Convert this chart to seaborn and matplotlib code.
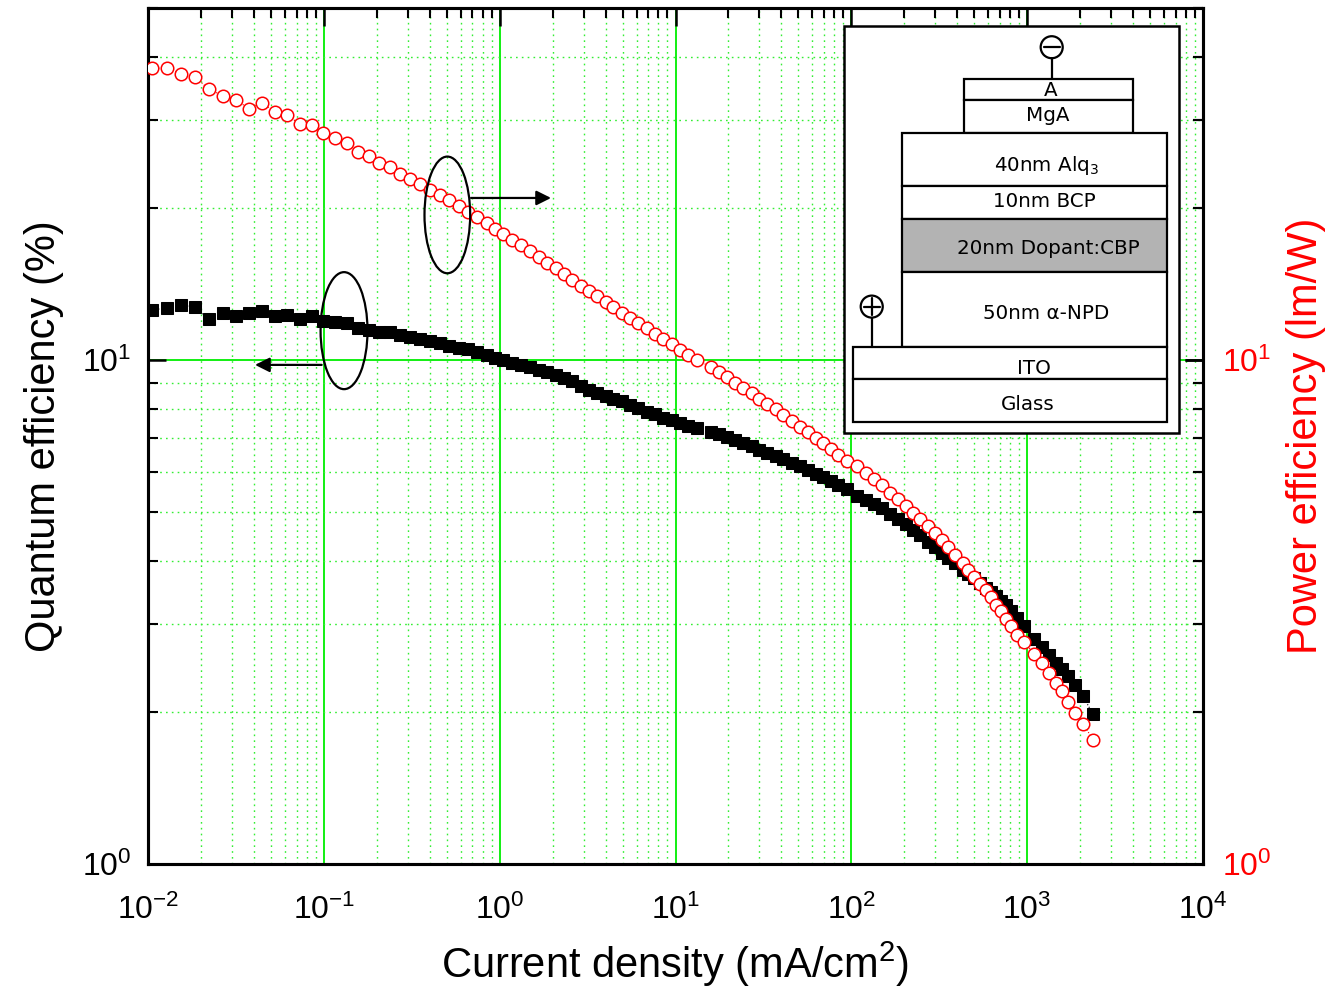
import matplotlib
matplotlib.use("Agg")
import matplotlib.pyplot as plt
import pandas as pd
import seaborn as sns
from matplotlib.patches import Rectangle, Ellipse
from matplotlib.ticker import LogLocator, NullFormatter

# Current density sweep (mA/cm^2)
current_density = [
    0.01058, 0.01278, 0.01547, 0.01858, 0.02223, 0.02671, 0.03155, 0.03754, 0.04452, 0.05278,
    0.06175, 0.07293, 0.08537, 0.0989, 0.1158, 0.1350, 0.1555, 0.1796, 0.2061, 0.2364,
    0.2702, 0.3093, 0.3526, 0.4018, 0.4581, 0.5174, 0.5875, 0.6584, 0.7466, 0.8444, 0.9415,
    1.050, 1.181, 1.324, 1.489, 1.675, 1.868, 2.085, 2.324, 2.591, 2.893, 3.225, 3.595,
    4.013, 4.434, 4.949, 5.517, 6.152, 6.866, 7.656, 8.537, 9.528, 10.62, 11.84, 13.22,
    15.88, 17.70, 19.58, 21.83, 24.33, 27.16, 30.01, 33.33, 37.21, 41.11, 45.86, 51.15,
    57.02, 63.07, 69.39, 76.42, 84.45, 94.28,
    107.9, 121.4, 134.8, 149.7, 166.2, 184.6, 205.0, 224.6, 246.3, 273.5, 299.7, 328.6,
    355.3, 389.4, 432.4, 461.6, 499.3, 540.3, 584.6, 624.1, 666.4, 711.5, 759.6, 811.0,
    877.3, 961.3, 1096, 1217, 1334, 1462, 1582, 1711, 1875, 2082, 2374,
]

# External quantum efficiency (%)
quantum_efficiency = [
    12.60, 12.66, 12.86, 12.73, 12.05, 12.38, 12.23, 12.38, 12.51, 12.26,
    12.30, 12.07, 12.23, 11.96, 11.91, 11.84, 11.57, 11.50, 11.38, 11.35,
    11.21, 11.09, 10.99, 10.91, 10.79, 10.68, 10.58, 10.50, 10.39, 10.23, 10.08,
    9.99, 9.89, 9.80, 9.68, 9.56, 9.45, 9.35, 9.21, 9.07, 8.90, 8.74, 8.62,
    8.50, 8.39, 8.28, 8.16, 8.03, 7.90, 7.80, 7.69, 7.59, 7.49, 7.41, 7.33,
    7.21, 7.12, 7.03, 6.94, 6.84, 6.74, 6.64, 6.55, 6.45, 6.35, 6.25, 6.15,
    6.04, 5.94, 5.85, 5.75, 5.66, 5.56,
    5.37, 5.28, 5.19, 5.08, 4.96, 4.84, 4.72, 4.61, 4.49, 4.36, 4.25, 4.14,
    4.05, 3.95, 3.83, 3.77, 3.69, 3.61, 3.53, 3.47, 3.40, 3.32, 3.26, 3.18,
    3.08, 2.96, 2.80, 2.70, 2.60, 2.51, 2.44, 2.36, 2.27, 2.15, 1.98,
]

# Power efficiency (lm/W)
power_efficiency = [
    37.92, 38.01, 37.00, 36.44, 34.45, 33.50, 32.90, 31.52, 32.43, 31.08,
    30.59, 29.43, 29.24, 28.18, 27.62, 26.96, 25.85, 25.37, 24.60, 24.12,
    23.39, 22.89, 22.33, 21.75, 21.23, 20.75, 20.23, 19.72, 19.21, 18.70, 18.24,
    17.78, 17.30, 16.91, 16.46, 16.03, 15.60, 15.20, 14.81, 14.41, 14.04, 13.72, 13.40,
    13.05, 12.72, 12.41, 12.13, 11.83, 11.56, 11.26, 11.01, 10.74, 10.47, 10.23, 10.00,
    9.70, 9.45, 9.24, 9.02, 8.81, 8.59, 8.37, 8.18, 8.01, 7.78, 7.57, 7.37,
    7.19, 7.02, 6.85, 6.65, 6.48, 6.31,
    6.15, 5.98, 5.81, 5.64, 5.45, 5.29, 5.13, 4.98, 4.83, 4.68, 4.53, 4.39,
    4.26, 4.10, 3.96, 3.84, 3.71, 3.59, 3.49, 3.38, 3.27, 3.17, 3.07, 2.97,
    2.85, 2.76, 2.61, 2.50, 2.39, 2.29, 2.20, 2.10, 1.99, 1.90, 1.76,
]

# Device stack drawn in the inset
stack_layers = ["40nm Alq$_\\mathdefault{3}$", "10nm BCP", "20nm Dopant:CBP", "50nm \u03b1-NPD"]
cathode_layers = ["A", "MgA"]
substrate_layers = ["ITO", "Glass"]

df = pd.DataFrame({"J": current_density, "EQE": quantum_efficiency, "PE": power_efficiency})

sns.set_theme(style="white")
plt.rcParams["font.family"] = ["Liberation Sans Narrow", "Liberation Sans", "DejaVu Sans"]
plt.rcParams["axes.unicode_minus"] = False
plt.rcParams["text.color"] = "black"
plt.rcParams["axes.labelcolor"] = "black"
plt.rcParams["xtick.color"] = "black"
plt.rcParams["ytick.color"] = "black"

fig = plt.figure(figsize=(13.35, 9.91), dpi=100)
ax = fig.add_axes([0.1109, 0.1282, 0.7902, 0.8638])
ax.set_xscale("log")
ax.set_yscale("log")
ax.set_xlim(1e-2, 1e4)
ax.set_ylim(1, 50)

ax.set_axisbelow(True)
ax.grid(which="major", color="#00ee00", lw=1.3, ls="-")
ax.grid(which="minor", color="#33ee33", lw=1.0, ls=(0, (1.2, 3)))

sns.lineplot(data=df, x="J", y="EQE", ax=ax, color="black", lw=0.8, linestyle=":",
             marker="s", markersize=8, markeredgecolor="black", markerfacecolor="black",
             estimator=None, sort=False, zorder=3)

ax2 = ax.twinx()
ax2.set_yscale("log")
ax2.set_ylim(1, 50)
sns.lineplot(data=df, x="J", y="PE", ax=ax2, color="red", lw=0.8, linestyle=":",
             marker="o", markersize=9, markeredgecolor="red", markerfacecolor="white",
             markeredgewidth=1.1, estimator=None, sort=False, zorder=4)
ax2.set_xlim(1e-2, 1e4)
ax2.set_xlabel("")

for a in (ax, ax2):
    for sp in a.spines.values():
        sp.set_linewidth(2.2)
        sp.set_color("black")

ax.xaxis.set_major_locator(LogLocator(base=10, numticks=10))
ax.xaxis.set_minor_locator(LogLocator(base=10, subs=range(2, 10), numticks=100))
ax.xaxis.set_minor_formatter(NullFormatter())
ax.yaxis.set_minor_formatter(NullFormatter())
ax2.yaxis.set_minor_formatter(NullFormatter())

ax.tick_params(axis="both", which="major", direction="in", length=13, width=1.8,
               top=True, right=True, labelsize=23, color="black", labelcolor="black")
ax.tick_params(axis="both", which="minor", direction="in", length=7, width=1.5,
               top=True, right=True, color="black")
ax.tick_params(axis="x", which="major", pad=22)
ax.tick_params(axis="y", which="major", pad=12)
ax2.tick_params(axis="y", which="major", direction="in", length=13, width=1.8,
                labelsize=23, color="black", labelcolor="red", pad=14)
ax2.tick_params(axis="y", which="minor", direction="in", length=7, width=1.5, color="black")

ax.set_xlabel("Current density (mA/cm$^\\mathdefault{2}$)", fontsize=30, labelpad=10)
ax.set_ylabel("Quantum efficiency (%)", fontsize=30, labelpad=13)
ax2.set_ylabel("Power efficiency (lm/W)", fontsize=30, color="red", labelpad=10)

# Series markers: ellipses with arrows pointing to each series' axis
T = ax2.transAxes
ax2.add_patch(Ellipse((0.2837, 0.7582), 0.0433, 0.1363, transform=T, fill=False,
                      ec="black", lw=1.6, zorder=12))
ax2.annotate("", xy=(0.382, 0.778), xytext=(0.3062, 0.778), xycoords="axes fraction",
             arrowprops=dict(arrowstyle="-|>", color="black", lw=1.6, mutation_scale=22,
                             shrinkA=0, shrinkB=0), zorder=12)
ax2.add_patch(Ellipse((0.1858, 0.623), 0.0445, 0.1367, transform=T, fill=False,
                      ec="black", lw=1.6, zorder=12))
ax2.annotate("", xy=(0.1014, 0.583), xytext=(0.1646, 0.583), xycoords="axes fraction",
             arrowprops=dict(arrowstyle="-|>", color="black", lw=1.6, mutation_scale=22,
                             shrinkA=0, shrinkB=0), zorder=12)

# Inset: OLED device structure
inset_font = dict(family=["DejaVu Sans Condensed", "DejaVu Sans"], fontsize=14.3,
                  color="black", ha="center", va="center", transform=T, zorder=16)
ax2.add_patch(Rectangle((0.6597, 0.5032), 0.3178, 0.4758, transform=T, fc="white",
                        ec="black", lw=1.8, zorder=13))

def layer(x0, x1, y0, y1, fc="white"):
    ax2.add_patch(Rectangle((x0, y0), x1 - x0, y1 - y0, transform=T, fc=fc,
                            ec="black", lw=1.6, zorder=14))

# cathode
layer(0.7735, 0.9340, 0.8925, 0.9167)
layer(0.7735, 0.9340, 0.8543, 0.8925)
# organic stack
stack_y = [0.8543, 0.7921, 0.7535, 0.6912, 0.6043]
stack_fc = ["white", "white", "#b3b3b3", "white"]
for i in range(4):
    layer(0.7144, 0.9656, stack_y[i + 1], stack_y[i], stack_fc[i])
# anode + substrate
layer(0.6685, 0.9656, 0.5666, 0.6043)
layer(0.6685, 0.9656, 0.5167, 0.5666)

ax2.text(0.8559, 0.9040, cathode_layers[0], **inset_font)
ax2.text(0.8531, 0.8738, cathode_layers[1], **inset_font)
stack_text_xy = [(0.8521, 0.8154), (0.8500, 0.7737), (0.8538, 0.7193), (0.8515, 0.6433)]
for (tx, ty), lab in zip(stack_text_xy, stack_layers):
    ax2.text(tx, ty, lab, **inset_font)
ax2.text(0.8400, 0.5790, substrate_layers[0], **inset_font)
ax2.text(0.8339, 0.5362, substrate_layers[1], **inset_font)

# electrode terminals
def terminal(cx, cy, y_end, plus):
    ax2.add_patch(Ellipse((cx, cy), 0.0209, 0.0257, transform=T, fill=False,
                          ec="black", lw=1.6, zorder=15))
    ax2.plot([cx - 0.0075, cx + 0.0075], [cy, cy], transform=T, color="black",
             lw=1.6, zorder=15)
    if plus:
        ax2.plot([cx, cx], [cy - 0.0095, cy + 0.0095], transform=T, color="black",
                 lw=1.6, zorder=15)
    ax2.plot([cx, cx], [cy - 0.0129, y_end], transform=T, color="black", lw=1.6, zorder=15)

terminal(0.8566, 0.9541, 0.9167, plus=False)
terminal(0.6860, 0.6511, 0.6043, plus=True)

fig.savefig("out.png", dpi=100)
